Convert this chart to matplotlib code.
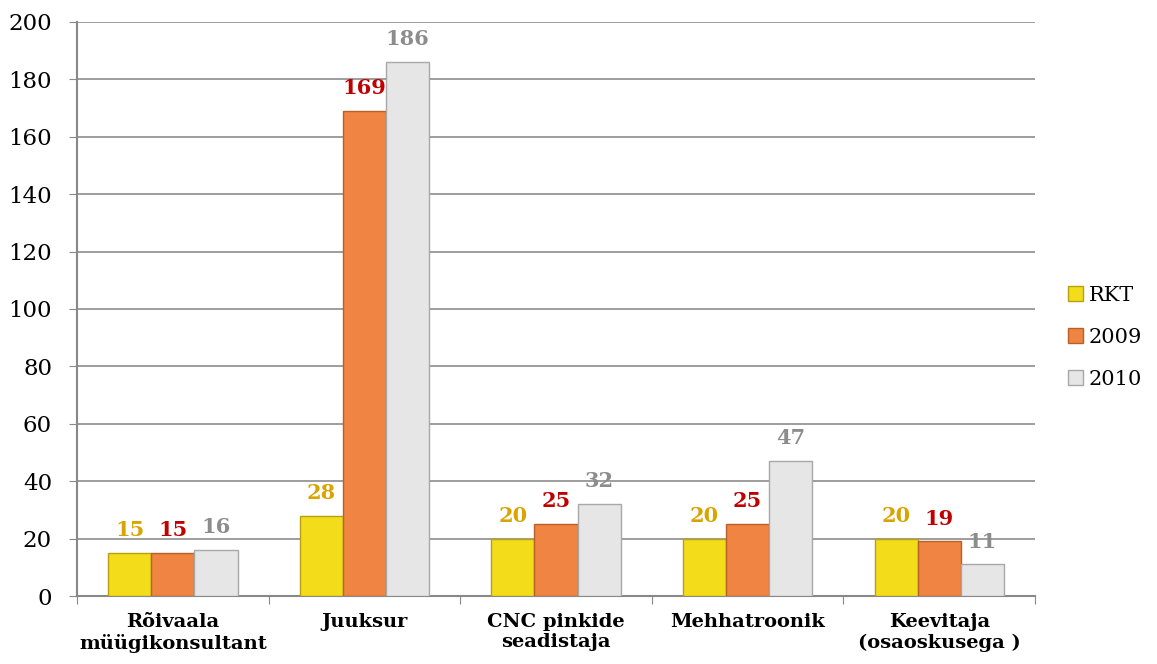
import numpy as np
import matplotlib.pyplot as plt

# Data
categories = ['Rõivaala\nmüügikonsultant', 'Juuksur', 'CNC pinkide\nseadistaja',
              'Mehhatroonik', 'Keevitaja\n(osaoskusega )']
series_names = ['RKT', '2009', '2010']
rkt = [15, 28, 20, 20, 20]
y2009 = [15, 169, 25, 25, 19]
y2010 = [16, 186, 32, 47, 11]

bar_colors = ['#F3DC1A', '#EF8443', '#E6E6E6']
edge_colors = ['#B8A010', '#B8602A', '#A8A8A8']
label_colors = ['#D9A400', '#C00000', '#8C8C8C']

plt.rcParams['font.family'] = ['DejaVu Serif']

fig = plt.figure(figsize=(11.57, 6.64), dpi=100)
ax = fig.add_axes([0.0666, 0.1024, 0.828, 0.8645])

x = np.arange(len(categories))
w = 0.225
all_series = [rkt, y2009, y2010]
for i, vals in enumerate(all_series):
    pos = x + (i - 1) * w
    bars = ax.bar(pos, vals, w, color=bar_colors[i], edgecolor=edge_colors[i],
                  linewidth=1.0, label=series_names[i], zorder=3)
    for b, v in zip(bars, vals):
        ax.text(b.get_x() + b.get_width() / 2, v + 4.5, str(v), ha='center', va='bottom',
                fontsize=15, fontweight='bold', color=label_colors[i], zorder=4)

ax.set_xlim(-0.5, len(categories) - 0.5)
ax.set_ylim(0, 200)
ax.set_yticks(np.arange(0, 201, 20))
ax.tick_params(axis='y', labelsize=16.5, length=6, color='#888888', pad=12)
ax.set_xticks(np.arange(-0.5, len(categories), 1))
ax.set_xticklabels([])
ax.set_xticks(x, minor=True)
ax.set_xticklabels(categories, minor=True, fontsize=14, fontweight='bold')
ax.tick_params(axis='x', which='major', length=6, color='#888888')
ax.tick_params(axis='x', which='minor', length=0, pad=12)

ax.grid(axis='y', color='#8C8C8C', linewidth=1.2, zorder=0)
for s in ['top', 'right']:
    ax.spines[s].set_visible(False)
for s in ['left', 'bottom']:
    ax.spines[s].set_color('#888888')
    ax.spines[s].set_linewidth(1.5)

ax.legend(loc='center left', bbox_to_anchor=(1.015, 0.451), frameon=False,
          fontsize=15, handlelength=0.7, handleheight=0.7, labelspacing=1.1,
          handletextpad=0.3)

plt.savefig('out.png', dpi=100)
plt.close()
